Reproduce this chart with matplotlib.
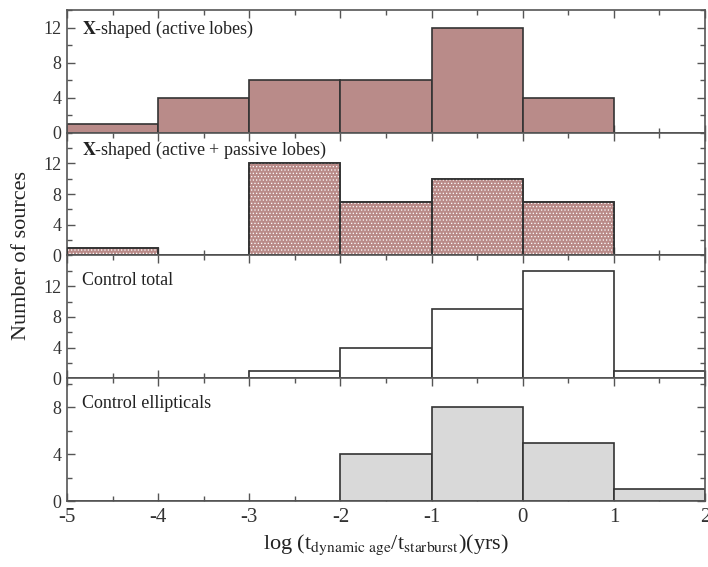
import numpy as np
import matplotlib
matplotlib.use('Agg')
import matplotlib.pyplot as plt
from matplotlib.ticker import MultipleLocator

plt.rcParams['font.family'] = 'Liberation Serif'
plt.rcParams['mathtext.fontset'] = 'stix'
plt.rcParams['hatch.linewidth'] = 0.5

# bins in log(t_dyn / t_sb)
bin_edges = np.arange(-5, 3)
left = bin_edges[:-1]

xshaped_active = [1, 4, 6, 6, 12, 4, 0]
xshaped_all = [1, 0, 12, 7, 10, 7, 0]
control_total = [0, 0, 1, 4, 9, 14, 1]
control_ell = [0, 0, 0, 4, 8, 5, 1]

labels = [r'$\mathbf{X}$-shaped (active lobes)',
          r'$\mathbf{X}$-shaped (active + passive lobes)',
          'Control total',
          'Control ellipticals']
label_y = [0.845, 0.853, 0.797, 0.797]
ylims = [14, 16, 16, 10.5]
ytick_sets = [[0, 4, 8, 12], [0, 4, 8, 12], [0, 4, 8, 12], [0, 4, 8]]

pink = '#b98b89'
grey = '#d9d9d9'
edge = '#333333'
axcol = '#555555'

fig = plt.figure(figsize=(7.08, 5.67), dpi=100)
gs = fig.add_gridspec(4, 1, left=0.0946, right=0.9958, top=0.9824, bottom=0.1164, hspace=0)
axes = [fig.add_subplot(gs[i]) for i in range(4)]

series = [xshaped_active, xshaped_all, control_total, control_ell]
fills = [pink, pink, 'white', grey]

for i, ax in enumerate(axes):
    counts = series[i]
    ax.bar(left, counts, width=1, align='edge', color=fills[i],
           edgecolor=edge, linewidth=1.2, zorder=2)
    if i == 1:
        # white dot pattern on top of the pink fill
        ax.bar(left, counts, width=1, align='edge', color='none',
               edgecolor='white', hatch='.....', linewidth=0, zorder=3)
        ax.bar(left, counts, width=1, align='edge', color='none',
               edgecolor=edge, linewidth=1.2, zorder=4)
    ax.set_xlim(-5, 2)
    ax.set_ylim(0, ylims[i])
    ax.set_yticks(ytick_sets[i])
    ax.yaxis.set_minor_locator(MultipleLocator(2))
    ax.xaxis.set_major_locator(MultipleLocator(1))
    ax.xaxis.set_minor_locator(MultipleLocator(0.5))
    ax.tick_params(which='both', direction='in', top=True, right=True,
                   color=axcol, labelsize=13, labelcolor='#333333', width=1)
    ax.tick_params(which='major', length=6)
    ax.tick_params(which='minor', length=3.5)
    ax.tick_params(axis='y', pad=4)
    for s in ax.spines.values():
        s.set_color(axcol)
        s.set_linewidth(1.2)
    if i < 3:
        ax.tick_params(labelbottom=False)
    ax.text(0.023, label_y[i], labels[i], transform=ax.transAxes, fontsize=13,
            va='center', ha='left', color='#222222')

axes[3].set_xticks(np.arange(-5, 3))
axes[3].set_xticklabels([str(v) for v in range(-5, 3)])
axes[3].tick_params(axis='x', labelsize=15, pad=5)
axes[3].set_xlabel(r'log (t$_{\mathrm{dynamic\ age}}$/t$_{\mathrm{starburst}}$)(yrs)',
                   fontsize=16, labelpad=4, color='#222222')

fig.text(0.031, 0.549, 'Number of sources', rotation=90, fontsize=16,
         va='center', ha='center', color='#222222')

fig.savefig('out.png', dpi=100)
